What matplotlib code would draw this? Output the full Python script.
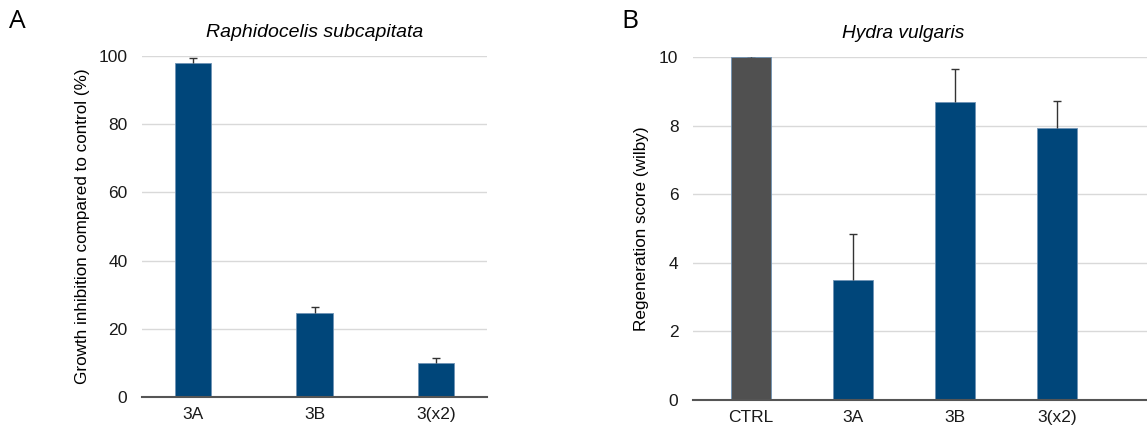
import matplotlib
matplotlib.use("Agg")
import matplotlib.pyplot as plt

# 数据
algae_labels = ["3A", "3B", "3(x2)"]
algae_values = [97.9, 24.5, 9.9]
algae_err = [1.6, 2.0, 1.6]

hydra_labels = ["CTRL", "3A", "3B", "3(x2)"]
hydra_values = [10.0, 3.5, 8.68, 7.92]
hydra_err = [0.02, 1.33, 0.97, 0.8]

BLUE = "#00467A"
GREY = "#505050"

plt.rcParams['font.family'] = ['Liberation Sans', 'DejaVu Sans']

fig = plt.figure(figsize=(11.47, 4.26), dpi=100)
W, H = 1147, 426


def px_axes(l, t, r, b):
    return fig.add_axes([l / W, 1 - b / H, (r - l) / W, (b - t) / H])


def style(ax, ymax, step):
    for s in ["left", "right", "top"]:
        ax.spines[s].set_visible(False)
    ax.spines["bottom"].set_color("#555555")
    ax.spines["bottom"].set_linewidth(1.5)
    ax.set_ylim(0, ymax)
    ax.set_yticks([i * step for i in range(6)])
    ax.yaxis.grid(True, color="#d9d9d9", linewidth=1)
    ax.set_axisbelow(True)
    ax.tick_params(axis="both", length=0, labelsize=12.5, colors="#1a1a1a")
    ax.tick_params(axis="y", pad=10.5)
    ax.tick_params(axis="x", pad=7)


def up_errors(ax, x, vals, errs):
    # 只画向上的误差线
    eb = ax.errorbar(x, vals, yerr=[[0] * len(errs), errs], fmt="none",
                     ecolor="#333333", elinewidth=1, capsize=3, capthick=1, zorder=3)
    eb.lines[1][0].set_visible(False)


# 左图
ax1 = px_axes(142, 56, 487, 397)
x1 = list(range(len(algae_labels)))
ax1.bar(x1, algae_values, width=0.30, color=BLUE, edgecolor="#6f93b5", linewidth=0.6, zorder=2)
up_errors(ax1, x1, algae_values, algae_err)
ax1.set_xticks(x1)
ax1.set_xticklabels(algae_labels)
ax1.set_xlim(-0.42, 2.42)
style(ax1, 100, 20)
ax1.set_ylabel("Growth inhibition compared to control (%)", fontsize=12.3, labelpad=6)
ax1.set_title("Raphidocelis subcapitata", fontsize=14, style="italic", pad=14)

# 右图
ax2 = px_axes(693, 57, 1147, 400)
x2 = list(range(len(hydra_labels)))
colors = [GREY] + [BLUE] * 3
ax2.bar(x2, hydra_values, width=0.39, color=colors, edgecolor="#6f93b5", linewidth=0.6, zorder=2)
up_errors(ax2, x2, hydra_values, hydra_err)
ax2.set_xticks(x2)
ax2.set_xticklabels(hydra_labels)
ax2.set_xlim(-0.57, 3.88)
style(ax2, 10, 2)
ax2.set_ylabel("Regeneration score (wilby)", fontsize=12.3, labelpad=7)
ax2.set_title("Hydra vulgaris", fontsize=13.8, style="italic", pad=14, x=0.463)

# 面板字母
fig.text(9 / W, 1 - 22 / H, "A", fontsize=19, family=['Open Sans', 'DejaVu Sans'], va="center")
fig.text(621 / W, 1 - 22 / H, "B", fontsize=19, family=['Open Sans', 'DejaVu Sans'], va="center")

fig.savefig("out.png", dpi=100, facecolor="white")
